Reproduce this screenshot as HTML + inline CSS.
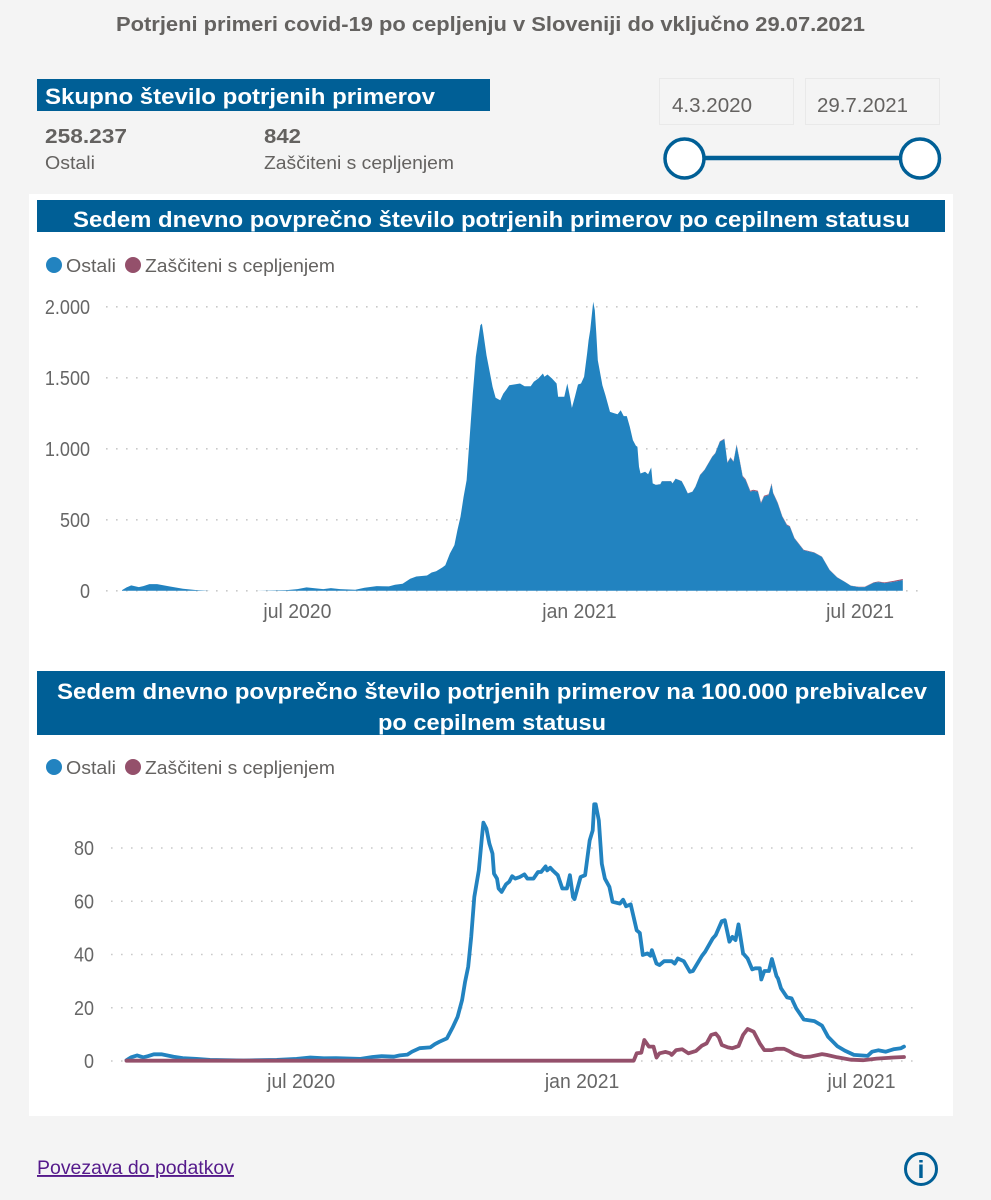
<!DOCTYPE html>
<html lang="sl">
<head>
<meta charset="utf-8">
<title>Potrjeni primeri covid-19 po cepljenju</title>
<style>
html,body{margin:0;padding:0;background:#f4f4f4;width:991px;height:1200px;overflow:hidden}
svg{display:block;font-family:"Liberation Sans",sans-serif}
.t{fill:#646260}
.hd{fill:#fff;font-weight:bold}
.tick{fill:#666;font-size:20px}
.grid{stroke:#c9c9c9;stroke-width:1.6;stroke-dasharray:1.6 8.4}
</style>
</head>
<body>
<svg id="page" xmlns="http://www.w3.org/2000/svg" width="991" height="1200" viewBox="0 0 991 1200">
  <rect x="0" y="0" width="991" height="1200" fill="#f4f4f4"/>
  <text class="t" x="116" y="31" font-size="20" font-weight="bold" textLength="749" lengthAdjust="spacingAndGlyphs">Potrjeni primeri covid-19 po cepljenju v Sloveniji do vključno 29.07.2021</text>

  <rect x="37" y="79" width="453" height="32" fill="#005f96"/>
  <text class="hd" x="45" y="104" font-size="22" textLength="390" lengthAdjust="spacingAndGlyphs">Skupno število potrjenih primerov</text>
  <text class="t" x="45" y="143" font-size="20" font-weight="bold" textLength="82" lengthAdjust="spacingAndGlyphs">258.237</text>
  <text class="t" x="45" y="169" font-size="18" textLength="50" lengthAdjust="spacingAndGlyphs">Ostali</text>
  <text class="t" x="264" y="143" font-size="20" font-weight="bold" textLength="37" lengthAdjust="spacingAndGlyphs">842</text>
  <text class="t" x="264" y="169" font-size="18" textLength="190" lengthAdjust="spacingAndGlyphs">Zaščiteni s cepljenjem</text>

  <rect x="659.5" y="78.5" width="134" height="46" fill="#f4f4f4" stroke="#e9e9e9"/>
  <text class="t" x="672" y="112" font-size="20" textLength="80" lengthAdjust="spacingAndGlyphs">4.3.2020</text>
  <rect x="805.5" y="78.5" width="134" height="46" fill="#f4f4f4" stroke="#e9e9e9"/>
  <text class="t" x="817" y="112" font-size="20" textLength="91" lengthAdjust="spacingAndGlyphs">29.7.2021</text>
  <line x1="685" y1="158" x2="920" y2="158" stroke="#005f96" stroke-width="4.5"/>
  <circle cx="684.5" cy="158.5" r="19.5" fill="#fff" stroke="#005f96" stroke-width="3.5"/>
  <circle cx="920" cy="158.5" r="19.5" fill="#fff" stroke="#005f96" stroke-width="3.5"/>

  <rect x="29" y="194" width="924" height="922" fill="#fff"/>

  <rect x="37" y="200" width="908" height="32" fill="#005f96"/>
  <text class="hd" x="73" y="227" font-size="22" textLength="837" lengthAdjust="spacingAndGlyphs">Sedem dnevno povprečno število potrjenih primerov po cepilnem statusu</text>
  <circle cx="54" cy="265" r="8" fill="#2283c0"/>
  <text class="t" x="66" y="272" font-size="18" textLength="50" lengthAdjust="spacingAndGlyphs">Ostali</text>
  <circle cx="133" cy="265" r="8" fill="#94506b"/>
  <text class="t" x="145" y="272" font-size="18" textLength="190" lengthAdjust="spacingAndGlyphs">Zaščiteni s cepljenjem</text>
  <g id="chart1"></g>

  <rect x="37" y="671" width="908" height="64" fill="#005f96"/>
  <text class="hd" x="57" y="699" font-size="22" textLength="870" lengthAdjust="spacingAndGlyphs">Sedem dnevno povprečno število potrjenih primerov na 100.000 prebivalcev</text>
  <text class="hd" x="378" y="730" font-size="22" textLength="228" lengthAdjust="spacingAndGlyphs">po cepilnem statusu</text>
  <circle cx="54" cy="767" r="8" fill="#2283c0"/>
  <text class="t" x="66" y="774" font-size="18" textLength="50" lengthAdjust="spacingAndGlyphs">Ostali</text>
  <circle cx="133" cy="767" r="8" fill="#94506b"/>
  <text class="t" x="145" y="774" font-size="18" textLength="190" lengthAdjust="spacingAndGlyphs">Zaščiteni s cepljenjem</text>
  <g id="chart2"></g>

  <text x="37" y="1174" font-size="19" fill="#551a8b" text-decoration="underline" textLength="197" lengthAdjust="spacingAndGlyphs">Povezava do podatkov</text>
  <circle cx="921" cy="1169" r="15.5" fill="none" stroke="#005f96" stroke-width="3"/>
  <text x="921" y="1178" font-size="25" font-weight="bold" fill="#005f96" text-anchor="middle">i</text>
</svg>
<script>
// Shared x axis
const xTickDays = [115, 300, 484];
const xTickLabels = ["jul 2020", "jan 2021", "jul 2021"];

// Chart 1: seven-day average of confirmed cases
const yTicks1 = [0, 500, 1000, 1500, 2000];
const yTickLabels1 = ["0", "500", "1.000", "1.500", "2.000"];
const days1 = [0,3,6,11,14,18,23,31,40,49,58,88,108,115,121,128,132,137,143,153,159,167,175,179,184,189,193,200,203,206,210,212,215,218,220,222,224,226,228,230,232,235,236,237,239,242,243,245,248,250,252,254,258,261,264,268,270,273,276,277,279,282,285,286,290,292,294,295,297,299,301,303,305,306,307,309,310,311,312,315,317,320,323,325,327,329,331,333,335,337,338,339,340,343,345,347,348,350,353,354,360,361,363,367,369,371,374,376,379,382,387,389,392,395,397,399,401,403,405,407,409,412,414,417,419,421,424,426,427,430,433,436,438,441,447,451,454,459,464,469,474,478,483,487,493,496,500,506,512];
const others1 = [5,24,38,26,33,47,47,31,14,5,1,1,5,12,24,16,12,19,12,7,21,33,31,42,49,85,101,108,129,138,164,180,263,322,430,521,662,779,1084,1389,1648,1870,1882,1812,1659,1495,1436,1359,1342,1389,1417,1448,1455,1460,1441,1441,1472,1495,1530,1507,1523,1495,1460,1366,1366,1460,1354,1288,1366,1453,1460,1507,1671,1765,1835,2035,1976,1812,1624,1448,1378,1260,1249,1244,1272,1230,1230,1155,1061,1021,1014,873,826,838,821,868,756,746,751,772,772,756,789,772,732,685,697,732,814,850,943,967,1049,1068,901,936,908,1026,920,803,779,697,704,697,615,662,674,751,685,615,521,462,451,368,286,275,268,239,146,94,63,35,26,26,56,61,54,63,75];
const protectedDays1 = [340,380,400,412,440,470,490,500,512];
const protected1 = [0,2,4,8,4,1,3,5,8];

// Chart 2: seven-day average per 100,000 residents
const yTicks2 = [0, 20, 40, 60, 80];
const yTickLabels2 = ["0", "20", "40", "60", "80"];
const othersDays2 = [0,3,7,11,14,18,23,31,37,46,55,77,99,112,121,130,138,154,162,168,176,180,185,188,193,200,203,206,211,215,218,221,223,225,227,229,232,234,235,237,239,241,242,244,245,247,250,252,254,256,259,262,264,268,271,273,276,277,279,281,284,287,290,292,294,295,299,302,305,307,308,309,311,313,315,318,320,325,327,329,332,336,338,340,343,345,346,349,351,354,359,361,363,367,371,373,379,381,386,388,392,394,397,399,401,403,406,409,412,414,417,418,420,423,425,428,429,431,435,438,441,446,453,458,462,468,473,479,488,491,495,500,505,510,512];
const others2 = [0.3,1.4,2.1,1.4,1.8,2.5,2.5,1.6,1.1,0.8,0.4,0.2,0.4,0.8,1.3,1,1.1,0.8,1.5,1.8,1.6,2.1,2.4,3.5,4.8,5.1,6.3,7.2,8.5,12.9,16.6,22.9,29.8,35.4,46.6,61.6,71.6,84,89.5,87.3,81.6,77.9,70.4,68.5,64.8,63.5,66.4,67.3,69.4,68.5,69.1,70.1,68.5,68.5,71,71,73.1,71.6,72.6,71.4,69.8,64.8,64.8,69.8,61.6,60.8,69.1,69.8,82.9,86.6,96.4,96.4,90.4,74.1,68.5,65.4,59.8,59.1,60.6,58.1,58.8,49.1,48.1,39.8,40.4,39.5,41.6,36.6,36,37.5,37.5,36.6,38.5,37.5,33.5,33.8,39.5,41,46,47.3,52.5,52.9,44.8,46.6,45.4,51.3,40.4,38.5,34.4,34.8,34.8,30.6,33.8,33.8,38.3,31.9,31,27.3,23.9,23.5,19.8,15.6,15,13.3,9.1,5.6,3.9,2.3,1.9,3.5,4,3.5,4.4,4.8,5.4];
const protectedDays2 = [0,100,200,300,334,336,339,341,344,347,349,351,355,358,359,362,366,370,375,379,382,385,388,390,392,396,399,403,406,409,413,417,420,425,428,433,436,440,446,450,458,461,468,477,485,494,505,512];
const protected2 = [0.1,0.1,0.1,0.1,0.1,2.9,3.1,7.9,5.4,5.4,1.3,2.9,3.4,2.9,2.3,4.1,4.4,2.9,3.8,5.8,6.6,9.8,10.3,8.9,6,5.1,4.8,5.6,9.8,12,11,6.6,4.1,4.1,4.6,4.6,3.8,2.5,1.5,1.6,2.6,2.3,1.4,0.5,0.3,0.9,1.3,1.5];

const NS = "http://www.w3.org/2000/svg";
const x1 = d => 122 + d * 1.525;
const y1 = v => 590.8 - v * 0.142;
const x2 = d => 126.5 + d * 1.5186;
const y2 = v => 1061 - v * 2.6625;

function mk(parent, tag, attrs, text) {
  const el = document.createElementNS(NS, tag);
  for (const k in attrs) el.setAttribute(k, attrs[k]);
  if (text !== undefined) el.textContent = text;
  parent.appendChild(el);
  return el;
}
function interp(xs, ys, d) {
  if (d <= xs[0]) return ys[0];
  for (let i = 1; i < xs.length; i++) {
    if (d <= xs[i]) return ys[i-1] + (ys[i] - ys[i-1]) * (d - xs[i-1]) / (xs[i] - xs[i-1]);
  }
  return ys[ys.length - 1];
}
function pts(xs, ys, fx, fy) {
  return xs.map((d, i) => fx(d).toFixed(1) + "," + fy(ys[i]).toFixed(1)).join(" ");
}
function narrow(lab, ratio) {
  lab.setAttribute("textLength", (lab.getComputedTextLength() * ratio).toFixed(1));
  lab.setAttribute("lengthAdjust", "spacingAndGlyphs");
}
function axes(g, ticks, labels, fy, gridX0, labelX, xf, labelY) {
  ticks.forEach((t, i) => {
    const line = mk(g, "line", {x1: gridX0, x2: 921, y1: fy(t), y2: fy(t), "class": "grid"});
    
    
    const lab = mk(g, "text", {x: labelX, y: fy(t) + 7, "text-anchor": "end", "class": "tick"}, labels[i]);
    
    
    narrow(lab, 0.9);
  });
  xTickDays.forEach((d, i) => {
    const lab = mk(g, "text", {x: xf(d), y: labelY, "text-anchor": "middle", "class": "tick"}, xTickLabels[i]);
    
    
    narrow(lab, 0.97);
  });
}

// Chart 1
const g1 = document.getElementById("chart1");
axes(g1, yTicks1, yTickLabels1, y1, 106, 90, x1, 618);
const lastDay1 = days1[days1.length - 1];
const protectedSpan = days1.filter(d => d >= protectedDays1[0]);
const topPts = protectedSpan.map(d => x1(d).toFixed(1) + "," + y1(interp(days1, others1, d) + interp(protectedDays1, protected1, d)).toFixed(1));
const botPts = protectedSpan.slice().reverse().map(d => x1(d).toFixed(1) + "," + y1(interp(days1, others1, d)).toFixed(1));
const areaProtected = mk(g1, "polygon", {points: topPts.concat(botPts).join(" "), fill: "#a0506e"});


const areaOthers = mk(g1, "polygon", {
  points: x1(days1[0]).toFixed(1) + "," + y1(0) + " " + pts(days1, others1, x1, y1) + " " + x1(lastDay1).toFixed(1) + "," + y1(0),
  fill: "#2283c0"
});



// Chart 2
const g2 = document.getElementById("chart2");
axes(g2, yTicks2, yTickLabels2, y2, 111, 94, x2, 1088);
const lineOthers = mk(g2, "polyline", {points: pts(othersDays2, others2, x2, y2), fill: "none", stroke: "#2283c0", "stroke-width": 3.8, "stroke-linejoin": "round", "stroke-linecap": "round"});


const lineProtected = mk(g2, "polyline", {points: pts(protectedDays2, protected2, x2, y2), fill: "none", stroke: "#94506b", "stroke-width": 3.8, "stroke-linejoin": "round", "stroke-linecap": "round"});


</script>
</body>
</html>
